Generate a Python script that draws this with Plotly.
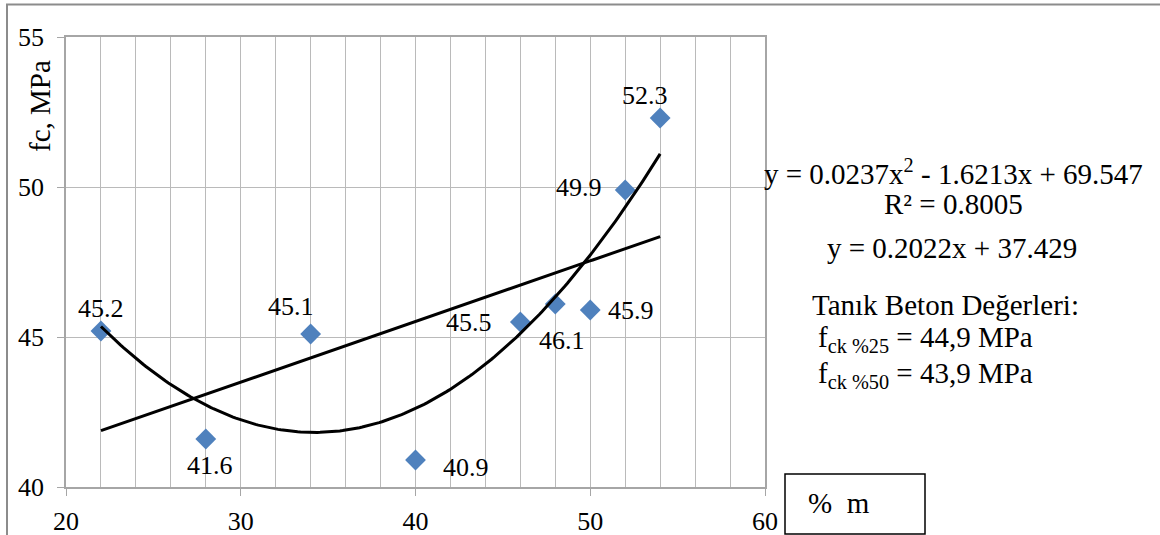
import numpy as np
import plotly.graph_objects as go

# ---- data ----
m_pct = [22, 28, 34, 40, 46, 48, 50, 52, 54]
fc = [45.2, 41.6, 45.1, 40.9, 45.5, 46.1, 45.9, 49.9, 52.3]
label_text = ["45.2", "41.6", "45.1", "40.9", "45.5", "46.1", "45.9", "49.9", "52.3"]
label_dx = [0, 4, -20, 50, -51, 7, 41, -46, -15]
label_dy = [23, -26, 28, -7, 0, -36, 0, 3, 23]
poly2_coef = [0.0237, -1.6213, 69.547]   # y = a x^2 + b x + c
lin_coef = [0.2022, 37.429]              # y = a x + b
r2_poly = 0.8005
x_ticks = [20, 30, 40, 50, 60]
y_ticks = [40, 45, 50, 55]

FONT = "Liberation Serif"
W, H = 1160, 535
L, R, T, B = 66, 395, 37, 48
PW, PH = W - L - R, H - T - B


def px(xp):
    return (xp - L) / PW


def py(yp):
    return (H - B - yp) / PH


fig = go.Figure()

fig.add_trace(go.Scatter(
    x=m_pct, y=fc, mode="markers",
    marker=dict(symbol="diamond", size=16, color="#4F81BD", line=dict(width=0)),
    showlegend=False, hoverinfo="skip"))

xf = np.linspace(min(m_pct), max(m_pct), 200)
yq = np.polyval(poly2_coef, xf)
yl = np.polyval(lin_coef, xf)
fig.add_trace(go.Scatter(x=xf, y=yq, mode="lines", line=dict(color="black", width=3),
                         showlegend=False, hoverinfo="skip"))
fig.add_trace(go.Scatter(x=xf, y=yl, mode="lines", line=dict(color="black", width=3),
                         showlegend=False, hoverinfo="skip"))

ann = []
for x, y, t, dx, dy in zip(m_pct, fc, label_text, label_dx, label_dy):
    ann.append(dict(x=x, y=y, xref="x", yref="y", text=t, showarrow=False,
                    xanchor="center", yanchor="middle",
                    xshift=dx, yshift=dy, font=dict(family=FONT, size=26, color="black")))


def pann(xp, yp, text, size=29, xanchor="center", angle=0):
    return dict(x=px(xp), y=py(yp), xref="paper", yref="paper", text=text,
                showarrow=False, xanchor=xanchor, yanchor="middle", textangle=angle,
                font=dict(family=FONT, size=size, color="black"))


ann.append(pann(40, 106, "fc, MPa", size=29, angle=-90))

eq1 = f"y = {poly2_coef[0]}x<sup>2</sup> - {abs(poly2_coef[1])}x + {poly2_coef[2]}"
eq2 = f"R² = {r2_poly}"
eq3 = f"y = {lin_coef[0]}x + {lin_coef[1]}"
ann.append(pann(953, 172, eq1))
ann.append(pann(954, 204, eq2))
ann.append(pann(952, 248, eq3))
ann.append(pann(810, 305, "Tanık Beton Değerleri:", xanchor="left"))
ann.append(pann(816, 339, "f<sub>ck %25</sub> = 44,9 MPa", xanchor="left"))
ann.append(pann(816, 375, "f<sub>ck %50</sub> = 43,9 MPa", xanchor="left"))
ann.append(pann(806, 503, "%  m", xanchor="left"))

shapes = [
    dict(type="rect", xref="paper", yref="paper", x0=px(7), x1=px(1200), y0=py(620), y1=py(4.5),
         line=dict(color="#8C8C8C", width=2), fillcolor="rgba(0,0,0,0)", layer="below"),
    dict(type="rect", xref="paper", yref="paper", x0=px(785), x1=px(925), y0=py(534), y1=py(474),
         line=dict(color="black", width=1.5), fillcolor="rgba(0,0,0,0)"),
]

grid_c = "#BABABA"
fig.update_layout(
    width=W, height=H,
    margin=dict(l=L, r=R, t=T, b=B, pad=0, autoexpand=False),
    paper_bgcolor="white", plot_bgcolor="white",
    font=dict(family=FONT, size=26, color="black"),
    annotations=ann, shapes=shapes,
    xaxis=dict(range=[20, 60], tickvals=x_ticks, ticks="outside", ticklen=7, tickcolor="#A6A6A6",
               showgrid=True, gridcolor=grid_c, gridwidth=1.3,
               minor=dict(dtick=2, showgrid=True, gridcolor=grid_c, gridwidth=1.3, ticks=""),
               showline=True, linecolor="#A6A6A6", linewidth=1.5, mirror=True,
               zeroline=False, ticklabelstandoff=3, automargin=False,
               tickfont=dict(family=FONT, size=26, color="black")),
    yaxis=dict(range=[40, 55], tickvals=y_ticks, ticks="outside", ticklen=7, tickcolor="#A6A6A6",
               showgrid=True, gridcolor=grid_c, gridwidth=1.3,
               showline=True, linecolor="#A6A6A6", linewidth=1.5, mirror=True,
               zeroline=False, ticklabelstandoff=8, automargin=False,
               tickfont=dict(family=FONT, size=26, color="black")),
)

fig.write_html("out.html")
